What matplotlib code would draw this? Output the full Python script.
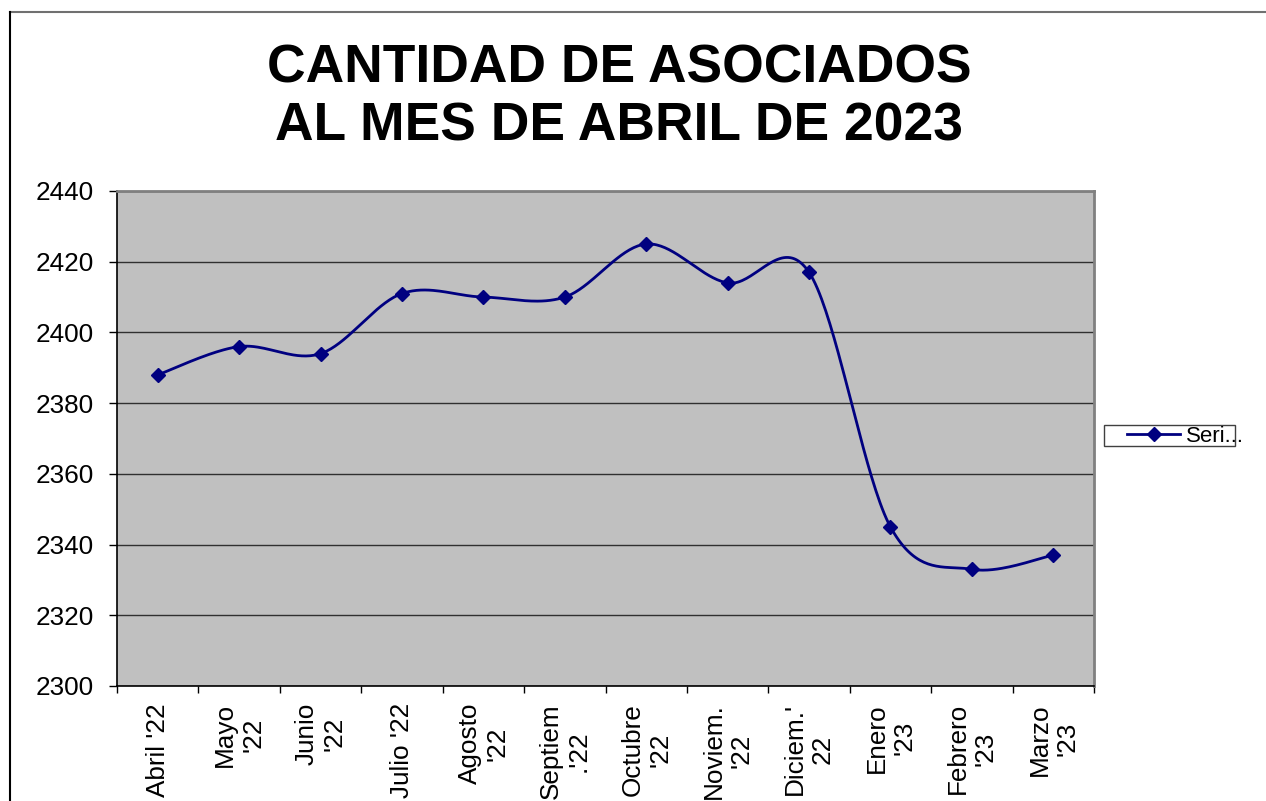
import numpy as np
import matplotlib
matplotlib.use("Agg")
import matplotlib.pyplot as plt
from matplotlib.lines import Line2D
from matplotlib.patches import Rectangle

plt.rcParams['font.family'] = ['Liberation Sans', 'DejaVu Sans']

months = ["Abril '22", "Mayo\n'22", "Junio\n'22", "Julio '22", "Agosto\n'22",
          "Septiem\n.'22", "Octubre\n'22", "Noviem.\n'22", "Diciem.'\n22",
          "Enero\n'23", "Febrero\n'23", "Marzo\n'23"]
socios = [2388, 2396, 2394, 2411, 2410, 2410, 2425, 2414, 2417, 2345, 2333, 2337]
yticks = [2300, 2320, 2340, 2360, 2380, 2400, 2420, 2440]

NAVY = "#000080"


def smooth(xs, ys, n=40):
    # excel-style smoothed line: catmull-rom bezier through the points
    P = np.column_stack([xs, ys]).astype(float)
    P = np.vstack([P[0], P, P[-1]])
    out = []
    for i in range(1, len(P) - 2):
        p0, p1, p2, p3 = P[i - 1], P[i], P[i + 1], P[i + 2]
        c1 = p1 + (p2 - p0) / 6
        c2 = p2 - (p3 - p1) / 6
        t = np.linspace(0, 1, n)[:, None]
        seg = ((1 - t) ** 3) * p1 + 3 * ((1 - t) ** 2) * t * c1 + 3 * (1 - t) * t ** 2 * c2 + t ** 3 * p2
        out.append(seg if i == 1 else seg[1:])
    out = np.vstack(out)
    return out[:, 0], out[:, 1]


fig = plt.figure(figsize=(12.66, 8.01), dpi=100)
ax = fig.add_axes([117 / 1266, 1 - 686 / 801, (1094 - 117) / 1266, (686 - 191) / 801])
ax.set_facecolor("#C0C0C0")

x = np.arange(len(socios)) + 0.5
sx, sy = smooth(x, socios)
ax.plot(sx, sy, color=NAVY, lw=2, zorder=3)
ax.plot(x, socios, linestyle="none", marker="D", ms=7.6, color=NAVY, zorder=4)

ax.set_xlim(0, len(socios))
ax.set_ylim(2300, 2440)
ax.set_yticks(yticks)
ax.set_xticks(np.arange(len(socios) + 1))
ax.set_xticklabels([])
for xi, lab in zip(x, months):
    ax.annotate(lab, xy=(xi, 0), xycoords=("data", "axes fraction"),
                xytext=(0, -17), textcoords="offset pixels",
                rotation=90, ha="center", va="top", multialignment="center",
                fontsize=18.8)
ax.tick_params(axis="y", direction="out", length=6, width=1, pad=11, labelsize=18.8)
ax.tick_params(axis="x", direction="out", length=5, width=1)
ax.grid(axis="y", color="#303030", lw=1)
ax.set_axisbelow(True)
for s in ["left", "bottom"]:
    ax.spines[s].set_color("black")
    ax.spines[s].set_linewidth(1.2)
for s in ["top", "right"]:
    ax.spines[s].set_color("#808080")
    ax.spines[s].set_linewidth(2)

fig.text(0.489, 0.878, "CANTIDAD DE ASOCIADOS\nAL MES DE ABRIL DE 2023",
         ha="center", va="center", fontsize=38.4, fontweight="bold", linespacing=1.2)

# legend: box drawn separately, label text runs past it like in excel
h = Line2D([], [], color=NAVY, lw=2, marker="D", ms=7.6)
leg = fig.legend([h], ["Seri..."], loc="center left", bbox_to_anchor=(1127 / 1266, 1 - 436 / 801),
                 fontsize=16, frameon=False, borderpad=0, handlelength=2.4,
                 handletextpad=0.25, borderaxespad=0)
fig.add_artist(Rectangle((1104 / 1266, 1 - 446 / 801), (1235 - 1104) / 1266, 21 / 801,
                         transform=fig.transFigure, fill=False, edgecolor="#404040", lw=1))

# outer chart border (only top and left visible)
fig.add_artist(Line2D([10 / 1266, 1], [1 - 12 / 801, 1 - 12 / 801], color="#707070", lw=1.5))
fig.add_artist(Line2D([10 / 1266, 10 / 1266], [0, 1 - 12 / 801], color="black", lw=1.5))

fig.savefig("out.png", dpi=100)
